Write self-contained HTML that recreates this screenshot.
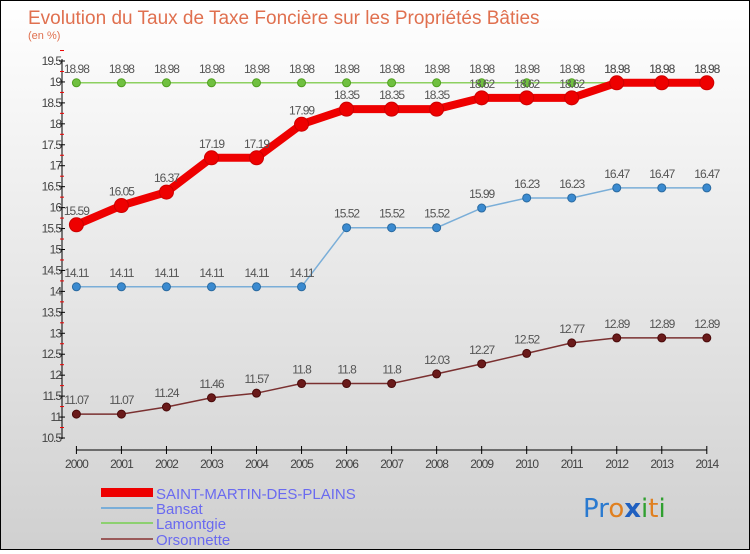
<!DOCTYPE html>
<html><head><meta charset="utf-8"><style>
body{margin:0;width:750px;height:550px;overflow:hidden;font-family:"Liberation Sans",sans-serif}
#c{position:absolute;left:0;top:0;width:748px;height:548px;border:1px solid #000;background:linear-gradient(#ffffff,#d0d0d0)}
</style></head><body>
<div id="c">
<svg id="s" width="748" height="548">
<text x="27" y="23" font-size="19" fill="#e0704f">Evolution du Taux de Taxe Foncière sur les Propriétés Bâties</text>
<text x="27" y="38" font-size="11" fill="#e0704f">(en %)</text>
<g id="axes"></g><g id="series"></g>
<g>
<rect x="100" y="487" width="52" height="9" fill="#ee0000"/>
<line x1="100" y1="507" x2="152" y2="507" stroke="#7aaed8" stroke-width="2"/>
<line x1="100" y1="522" x2="152" y2="522" stroke="#8dd070" stroke-width="2"/>
<line x1="100" y1="538" x2="152" y2="538" stroke="#9a5a5a" stroke-width="2"/>
<text x="155" y="498" font-size="15" fill="#6a6af0">SAINT-MARTIN-DES-PLAINS</text>
<text x="155" y="513" font-size="15" fill="#6a6af0">Bansat</text>
<text x="155" y="528" font-size="15" fill="#6a6af0">Lamontgie</text>
<text x="155" y="544" font-size="15" fill="#6a6af0">Orsonnette</text>
</g>
<g font-size="26" font-family="DejaVu Sans,sans-serif">
<text x="582" y="516"><tspan fill="#2a7ad0">Pr</tspan><tspan fill="#e08020">o</tspan><tspan fill="#2060c0" font-weight="bold">x</tspan><tspan fill="#30a030">i</tspan><tspan fill="#e08020">t</tspan><tspan fill="#30a030">i</tspan></text>
</g>
</svg></div>
<script>
const years=[2000,2001,2002,2003,2004,2005,2006,2007,2008,2009,2010,2011,2012,2013,2014];
const saintMartin=[15.59,16.05,16.37,17.19,17.19,17.99,18.35,18.35,18.35,18.62,18.62,18.62,18.98,18.98,18.98];
const bansat=[14.11,14.11,14.11,14.11,14.11,14.11,15.52,15.52,15.52,15.99,16.23,16.23,16.47,16.47,16.47];
const lamontgie=[18.98,18.98,18.98,18.98,18.98,18.98,18.98,18.98,18.98,18.98,18.98,18.98,18.98,18.98,18.98];
const orsonnette=[11.07,11.07,11.24,11.46,11.57,11.8,11.8,11.8,12.03,12.27,12.52,12.77,12.89,12.89,12.89];
const yTicks=[10.5,11,11.5,12,12.5,13,13.5,14,14.5,15,15.5,16,16.5,17,17.5,18,18.5,19,19.5];
const NS='http://www.w3.org/2000/svg';
const X=i=>75.4+i*(705.8-75.4)/14;
const Y=v=>437-(v-10.5)*(377/9);
function mk(t,a,p){const e=document.createElementNS(NS,t);for(const k in a)e.setAttribute(k,a[k]);p.appendChild(e);return e;}
const ax=document.getElementById('axes');
const yl=mk('line',{x1:61,y1:58,x2:61,y2:438,stroke:'#000'},ax);


yTicks.forEach(v=>{
 mk('line',{x1:58,y1:Y(v),x2:64,y2:Y(v),stroke:'#000'},ax);
 mk('line',{x1:59,y1:Y(v+0.25),x2:63,y2:Y(v+0.25),stroke:'#e00'},ax);
 const t=mk('text',{x:60,y:Y(v)+4,'font-size':12,fill:'#444','text-anchor':'end','letter-spacing':'-1'},ax);
 t.textContent=v;
 
 
});
const xl=mk('line',{x1:75.4,y1:449,x2:705.8,y2:449,stroke:'#000'},ax);


years.forEach((y,i)=>{
 mk('line',{x1:X(i),y1:445,x2:X(i),y2:453,stroke:'#000'},ax);
 const t=mk('text',{x:X(i),y:467,'font-size':12,fill:'#444','text-anchor':'middle','letter-spacing':'-1'},ax);
 t.textContent=y;
 
 
});
const sg=document.getElementById('series');
function series(name,vals,color,lw,r,dot,stroke){
 const g=mk('g',{},sg);
 
 
 mk('polyline',{points:vals.map((v,i)=>X(i)+','+Y(v)).join(' '),fill:'none',stroke:color,'stroke-width':lw},g);
 vals.forEach((v,i)=>{
  const c=mk('circle',{cx:X(i),cy:Y(v),r:r,fill:dot,stroke:stroke,'stroke-width':1},g);
  
  
  const t=mk('text',{x:X(i),y:Y(v)-10,'font-size':12,fill:'#555','text-anchor':'middle','letter-spacing':'-1'},g);
  t.textContent=v;
  
  
 });
}
series('orsonnette-series',orsonnette,'#7a3030',1.5,4,'#6a1a1a','#4a0a0a');
series('bansat-series',bansat,'#7aaed8',1.5,4,'#3a8ad0','#2a6aa0');
series('lamontgie-series',lamontgie,'#8dd060',1.5,4,'#70c040','#50a020');
series('saint-martin-series',saintMartin,'#ee0000',8,7,'#ee0000','#cc0000');
</script>
</body></html>
